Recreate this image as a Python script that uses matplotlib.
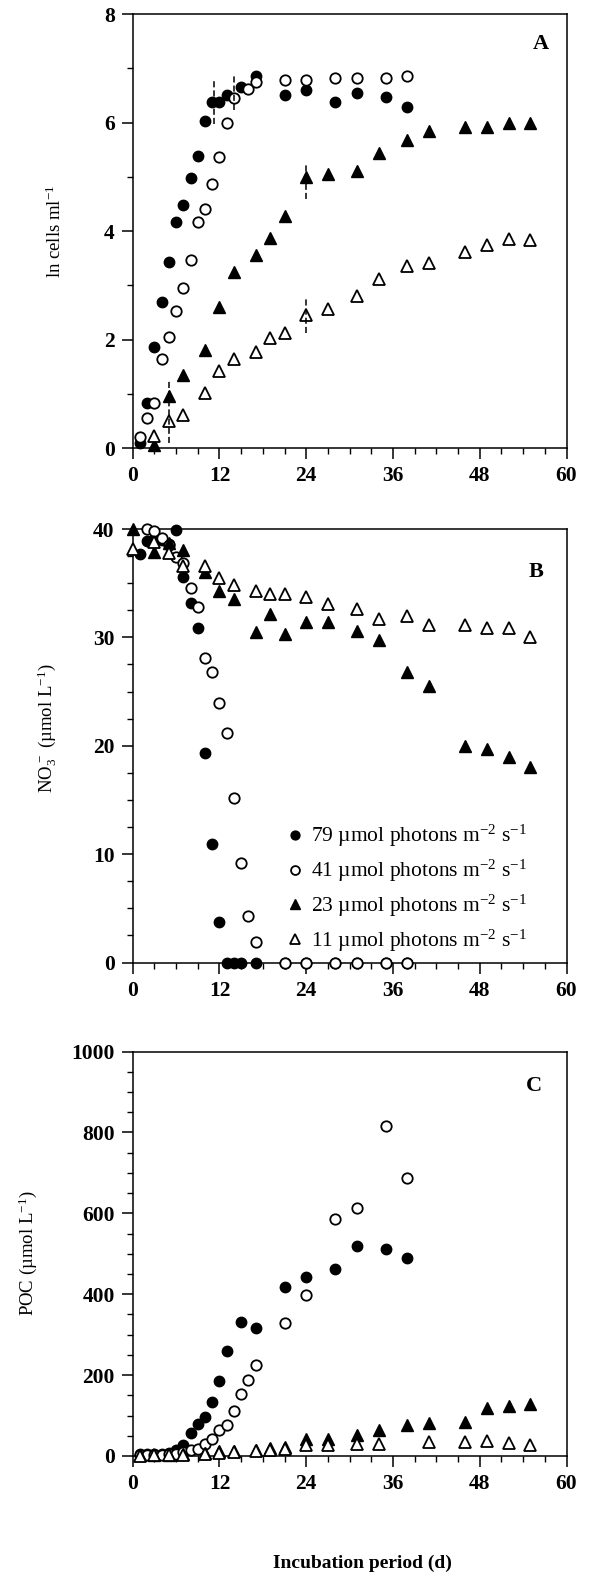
# -*- coding: utf-8 -*-
import matplotlib
matplotlib.use("Agg")
import matplotlib.pyplot as plt
from matplotlib.ticker import MultipleLocator

plt.rcParams['font.family'] = ['Liberation Serif', 'DejaVu Serif']
plt.rcParams['mathtext.fontset'] = 'custom'
plt.rcParams['mathtext.rm'] = 'Liberation Serif'
plt.rcParams['mathtext.it'] = 'Liberation Serif:italic'
plt.rcParams['mathtext.bf'] = 'Liberation Serif:bold'

# ---- panel A : ln cells ml-1
a_days_79 = [1, 2, 3, 4, 5, 6, 7, 8, 9, 10, 11, 12, 13, 15, 17, 21, 24, 28, 31, 35, 38]
a_79 = [0.10, 0.83, 1.87, 2.69, 3.43, 4.17, 4.48, 4.98, 5.38, 6.02, 6.37, 6.37, 6.51,
        6.65, 6.86, 6.51, 6.60, 6.38, 6.54, 6.48, 6.28]
a_days_41 = [1, 2, 3, 4, 5, 6, 7, 8, 9, 10, 11, 12, 13, 14, 16, 17, 21, 24, 28, 31, 35, 38]
a_41 = [0.20, 0.55, 0.83, 1.65, 2.04, 2.52, 2.95, 3.47, 4.17, 4.40, 4.86, 5.37, 6.00,
        6.45, 6.61, 6.75, 6.78, 6.78, 6.83, 6.83, 6.83, 6.86]
a_days_tri = [3, 5, 7, 10, 12, 14, 17, 19, 21, 24, 27, 31, 34, 38, 41, 46, 49, 52, 55]
a_23 = [0.05, 0.96, 1.35, 1.81, 2.60, 3.24, 3.56, 3.87, 4.28, 5.00, 5.06, 5.11, 5.43,
        5.68, 5.84, 5.92, 5.91, 6.00, 6.00]
a_11 = [0.23, 0.50, 0.61, 1.02, 1.42, 1.65, 1.77, 2.03, 2.12, 2.46, 2.56, 2.81, 3.11,
        3.35, 3.41, 3.61, 3.74, 3.85, 3.84]
# vertical marks in panel A
mark_x = [5, 11.3, 14, 24, 24]
mark_lo = [0.09, 5.98, 6.23, 4.59, 2.12]
mark_hi = [1.24, 6.81, 6.87, 5.24, 2.75]

# ---- panel B : nitrate
b_days_79 = [1, 2, 3, 4, 5, 6, 7, 8, 9, 10, 11, 12, 13, 14, 15, 17, 21, 24, 28, 31, 35, 38]
b_79 = [37.7, 38.9, 39.1, 39.0, 38.6, 39.9, 35.6, 33.2, 30.9, 19.3, 10.9, 3.7,
        0, 0, 0, 0, 0, 0, 0, 0, 0, 0]
b_days_41 = [2, 3, 4, 5, 6, 7, 8, 9, 10, 11, 12, 13, 14, 15, 16, 17, 21, 24, 28, 31, 35, 38]
b_41 = [40.0, 39.8, 39.2, 38.5, 37.4, 36.9, 34.6, 32.8, 28.1, 26.8, 23.9, 21.2, 15.2,
        9.2, 4.3, 1.9, 0, 0, 0, 0, 0, 0]
b_days_23 = [0, 3, 5, 7, 10, 12, 14, 17, 19, 21, 24, 27, 31, 34, 38, 41, 46, 49, 52, 55]
b_23 = [40.0, 37.9, 38.7, 38.1, 36.0, 34.3, 33.5, 30.5, 32.2, 30.3, 31.4, 31.4, 30.6,
        29.8, 26.8, 25.5, 20.0, 19.7, 19.0, 18.0]
b_days_11 = [0, 3, 5, 7, 10, 12, 14, 17, 19, 21, 24, 27, 31, 34, 38, 41, 46, 49, 52, 55]
b_11 = [38.2, 38.8, 37.8, 36.6, 36.6, 35.5, 34.8, 34.3, 34.0, 34.0, 33.7, 33.1, 32.6,
        31.7, 32.0, 31.1, 31.1, 30.9, 30.9, 30.0]

# ---- panel C : POC
c_days_79 = [1, 2, 3, 4, 5, 6, 7, 8, 9, 10, 11, 12, 13, 15, 17, 21, 24, 28, 31, 35, 38]
c_79 = [5, 5, 4, 5, 8, 15, 28, 56, 80, 97, 133, 186, 260, 332, 316, 417, 442, 462,
        518, 511, 489]
c_days_41 = [1, 2, 3, 4, 5, 6, 7, 8, 9, 10, 11, 12, 13, 14, 15, 16, 17, 21, 24, 28, 31, 35, 38]
c_41 = [3, 3, 3, 3, 4, 6, 10, 15, 17, 29, 43, 63, 76, 111, 153, 187, 224, 328, 398,
        586, 614, 815, 687]
c_days_23 = [1, 3, 5, 7, 10, 12, 14, 17, 19, 21, 24, 27, 31, 34, 38, 41, 46, 49, 52, 55]
c_23 = [2, 2, 3, 4, 8, 11, 13, 15, 20, 23, 41, 42, 52, 64, 77, 81, 85, 118, 124, 128]
c_days_11 = [1, 3, 5, 7, 10, 12, 14, 17, 19, 21, 24, 27, 31, 34, 41, 46, 49, 52, 55]
c_11 = [1, 2, 2, 3, 5, 8, 10, 12, 15, 18, 26, 27, 29, 29, 35, 35, 38, 31, 27]

labels = ["79 \u00b5mol photons m$^{-2}$ s$^{-1}$",
          "41 \u00b5mol photons m$^{-2}$ s$^{-1}$",
          "23 \u00b5mol photons m$^{-2}$ s$^{-1}$",
          "11 \u00b5mol photons m$^{-2}$ s$^{-1}$"]

styles = [dict(marker='o', mfc='black', mec='black', ms=7.5),
          dict(marker='o', mfc='white', mec='black', ms=7.5, mew=1.3),
          dict(marker='^', mfc='black', mec='black', ms=8),
          dict(marker='^', mfc='white', mec='black', ms=8, mew=1.3)]

fig = plt.figure(figsize=(5.9, 15.81), dpi=100)
axA = fig.add_axes([0.2249, 0.7166, 0.7353, 0.2745])
axB = fig.add_axes([0.2249, 0.3912, 0.7353, 0.2742])
axC = fig.add_axes([0.2249, 0.0791, 0.7353, 0.2558])


def pts(ax, x, y, st, lab=None):
    ax.plot(x, y, linestyle='none', clip_on=False, label=lab, zorder=3, **st)


def style_axes(ax, ymax, ymaj, ymin):
    ax.set_xlim(0, 60)
    ax.set_ylim(0, ymax)
    ax.xaxis.set_major_locator(MultipleLocator(12))
    ax.xaxis.set_minor_locator(MultipleLocator(3))
    ax.yaxis.set_major_locator(MultipleLocator(ymaj))
    ax.yaxis.set_minor_locator(MultipleLocator(ymin))
    ax.tick_params(which='major', direction='out', length=8, width=1.1,
                   labelsize=15.5, pad=5)
    ax.tick_params(which='minor', direction='out', length=4, width=1.0)
    ax.tick_params(top=False, right=False)
    for lab in ax.get_xticklabels() + ax.get_yticklabels():
        lab.set_fontweight('bold')
    for sp in ax.spines.values():
        sp.set_linewidth(1.1)


pts(axA, a_days_79, a_79, styles[0])
pts(axA, a_days_41, a_41, styles[1])
pts(axA, a_days_tri, a_23, styles[2])
pts(axA, a_days_tri, a_11, styles[3])
axA.vlines(mark_x, mark_lo, mark_hi, colors='black', linestyles=(0, (4, 2)),
           linewidth=1.1, zorder=4)
style_axes(axA, 8, 2, 1)
axA.set_ylabel(r"ln cells ml$^{-1}$", fontsize=13.5)
axA.yaxis.set_label_coords(-0.155, 0.5)
axA.text(0.94, 0.93, "A", transform=axA.transAxes, fontsize=16,
         fontweight='bold', ha='center', va='center')

pts(axB, b_days_79, b_79, styles[0], labels[0])
pts(axB, b_days_41, b_41, styles[1], labels[1])
pts(axB, b_days_23, b_23, styles[2], labels[2])
pts(axB, b_days_11, b_11, styles[3], labels[3])
style_axes(axB, 40, 10, 2.5)
axB.set_ylabel("NO$_3^{\\,-}$ (\u00b5mol L$^{-1}$)", fontsize=13.5)
axB.yaxis.set_label_coords(-0.17, 0.54)
axB.text(0.93, 0.90, "B", transform=axB.transAxes, fontsize=16,
         fontweight='bold', ha='center', va='center')
leg = axB.legend(loc='lower left', bbox_to_anchor=(0.33, 0.0), frameon=False,
                 fontsize=15.5, handletextpad=0.25, labelspacing=0.4,
                 handlelength=1.0, markerscale=0.85, borderaxespad=0)

pts(axC, c_days_79, c_79, styles[0])
pts(axC, c_days_41, c_41, styles[1])
pts(axC, c_days_23, c_23, styles[2])
pts(axC, c_days_11, c_11, styles[3])
style_axes(axC, 1000, 200, 50)
axC.set_ylabel("POC (\u00b5mol L$^{-1}$)", fontsize=13.5)
axC.yaxis.set_label_coords(-0.215, 0.5)
axC.text(0.925, 0.915, "C", transform=axC.transAxes, fontsize=16,
         fontweight='bold', ha='center', va='center')
axC.set_xlabel("Incubation period (d)", fontsize=14, fontweight='bold')
axC.xaxis.set_label_coords(0.53, -0.245)

fig.savefig("out.png", dpi=100)
